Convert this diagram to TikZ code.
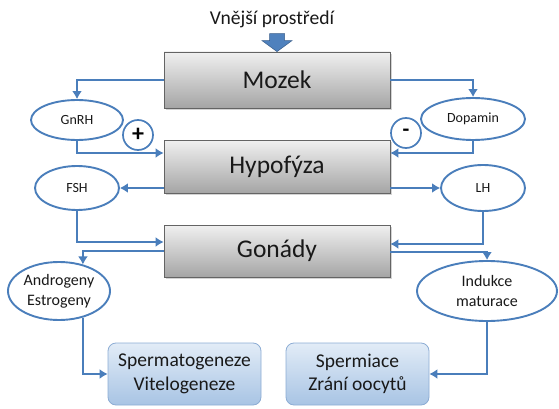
\documentclass[tikz,border=0pt]{standalone}
\usepackage{fontspec}
\setmainfont{Carlito}
\usetikzlibrary{arrows.meta,shadows,shapes.geometric,calc}
\definecolor{lineblue}{RGB}{74,126,187}
\definecolor{arrowblue}{RGB}{79,129,189}
\definecolor{arrowedge}{RGB}{56,93,138}
\definecolor{boxtop}{RGB}{240,240,240}
\definecolor{boxbot}{RGB}{165,165,165}
\definecolor{boxedge}{RGB}{100,100,100}
\definecolor{btop}{RGB}{226,236,247}
\definecolor{bbot}{RGB}{168,196,228}
\definecolor{bedge}{RGB}{140,172,212}
\definecolor{txt}{RGB}{25,25,25}
\begin{document}
\begin{tikzpicture}[x=1pt,y=-1pt,
  graybox/.style={rectangle, draw=boxedge, line width=0.8pt, top color=boxtop, bottom color=boxbot,
    minimum width=226pt, inner sep=0pt, text=txt, font=\fontsize{25.5}{28}\selectfont,
    drop shadow={shadow xshift=2pt, shadow yshift=-2pt, opacity=0.35}},
  bluebox/.style={rectangle, rounded corners=8pt, draw=bedge, line width=0.8pt, top color=btop, bottom color=bbot,
    inner sep=0pt, text=txt, align=center, font=\fontsize{19.5}{23.5}\selectfont},
  oval/.style={ellipse, draw=lineblue, line width=1.9pt, fill=white, inner sep=0pt, text=txt, align=center},
  small/.style={font=\fontsize{14}{16}\selectfont},
  medium/.style={font=\fontsize{16}{20}\selectfont},
  sign/.style={circle, draw=lineblue, line width=1.7pt, fill=white, minimum size=30pt, inner sep=0pt, text=black},
  conn/.style={draw=lineblue, line width=2pt, -{Latex[length=8pt,width=10pt]}},
]
\useasboundingbox (0,0) rectangle (559,409);

% text on top
\node[anchor=base, text=txt, font=\fontsize{19.6}{22}\selectfont, inner sep=0pt] (env) at (272,25) {Vnější prostředí};

% main boxes
\node[graybox, minimum height=56pt] (mozek) at (277,80) {Mozek};
\node[graybox, minimum height=53pt] (hyp) at (277,166.5) {Hypofýza};
\node[graybox, minimum height=52pt] (gon) at (277,251) {Gonády};

% block arrow from environment
\filldraw[fill=arrowblue, draw=arrowedge, line width=0.5pt]
  (mozek.north) -- ++(-15,-11) -- ++(7.5,0) -- ++(0,-7) -- ++(15,0) -- ++(0,7) -- ++(7.5,0) -- cycle;

% ovals
\node[oval, small, minimum width=92pt, minimum height=40pt] (gnrh) at (77,120) {GnRH};
\node[oval, small, minimum width=104pt, minimum height=42pt] (dop) at (473,119) {Dopamin};
\node[oval, small, minimum width=84pt, minimum height=44pt] (fsh) at (77,188) {FSH};
\node[oval, small, minimum width=84pt, minimum height=46pt] (lh) at (483,188) {LH};
\node[oval, medium, minimum width=102pt, minimum height=58pt] (andr) at (59,291) {Androgeny\\Estrogeny};
\node[oval, medium, minimum width=140pt, minimum height=60pt] (ind) at (487,291) {Indukce\\maturace};

% signs
\node[sign, font=\fontsize{24}{24}\bfseries\selectfont] (plus) at (138,135) {+};
\node[sign, font=\fontsize{22}{22}\bfseries\selectfont] (minus) at (406,133) {-};

% result boxes
\node[bluebox, minimum width=153pt, minimum height=62pt] (sperm) at (184.5,374) {Spermatogeneze\\Vitelogeneze};
\node[bluebox, minimum width=143pt, minimum height=62pt] (spermi) at (357.5,374) {Spermiace\\Zrání oocytů};

% connectors
\draw[conn] (mozek.west) -| (gnrh.north);
\draw[conn] (mozek.east) -| (dop.north);
\draw[conn] (gnrh.south) |- ([yshift=13.5pt]hyp.west);
\draw[conn] (dop.south) |- ([yshift=13.5pt]hyp.east);
\draw[conn] ([yshift=-21.5pt]hyp.west) -- (fsh.east);
\draw[conn] ([yshift=-21.5pt]hyp.east) -- (lh.west);
\draw[conn] (fsh.south) |- ([yshift=9pt]gon.west);
\draw[conn] (lh.south) |- ([yshift=7pt]gon.east);
\draw[conn] (gon.west) -| (andr.48);
\draw[conn] ([yshift=-1pt]gon.east) -| (ind.north);
\draw[conn] (andr.-48) |- (sperm.west);
\draw[conn] (ind.south) |- (spermi.east);
\end{tikzpicture}
\end{document}
